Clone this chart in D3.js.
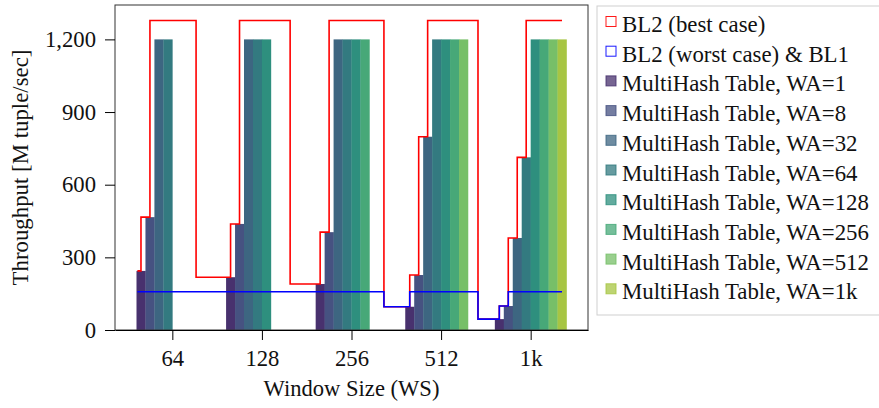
<!DOCTYPE html>
<html>
<head>
<meta charset="utf-8">
<script src="https://d3js.org/d3.v7.min.js"></script>
<style>
  body { margin: 0; background: #fff; }
</style>
</head>
<body>
<div id="holder"></div>
<script>
const w = 879;
const h = 408;
const margin = { top: 5, right: 291, bottom: 78, left: 115 };
const font = "'Liberation Serif', 'Times New Roman', Times, serif";

// DATA
const windowSizes = ["64", "128", "256", "512", "1k"];
const yTicks = [0, 300, 600, 900, 1200];
const seriesNames = [
    "MultiHash Table, WA=1", "MultiHash Table, WA=8", "MultiHash Table, WA=32",
    "MultiHash Table, WA=64", "MultiHash Table, WA=128", "MultiHash Table, WA=256",
    "MultiHash Table, WA=512", "MultiHash Table, WA=1k"
];
const seriesColors = ["#48316e", "#465281", "#3d6681", "#337a80", "#2e8f7e", "#47a878", "#77bf68", "#a7c543"];

// throughput per window size, one value per WA (only WA <= WS)
const throughput = [
    [244, 466, 1200, 1200],
    [218, 438, 1200, 1200, 1200],
    [190, 404, 1200, 1200, 1200, 1200],
    [96, 227, 798, 1200, 1200, 1200, 1200],
    [45, 99, 380, 713, 1200, 1200, 1200, 1200]
];

// baselines: step values at the first WA slots, then a plateau
const bl2BestSteps = [[244, 466], [218, 438], [190, 404], [96, 227, 798], [45, 99, 380, 713]];
const bl2BestPeak = [1278, 1278, 1278, 1278, 1278];
const bl2WorstSteps = [[158, 158], [158, 158], [158, 158], [96, 158, 158], [45, 99, 158, 158]];
const bl2WorstPeak = [158, 158, 158, 158, 158];
const plateauEnd = [1.265, 2.315, 3.362, 4.412, 5.35];
const lineStart = 0.61;

// SVG
const svg = d3.select("#holder")
    .append("svg")
    .attr("width", w)
    .attr("height", h)
    .style("display", "block");

// scale font so a text gets the wanted width
function fitWidth(sel, target) {
    let size = 22;
    sel.style("font-size", size + "px");
    let len = sel.node().getComputedTextLength();
    if (len > 0) size = size * target / len;
    return size;
}

// SCALES
const xScale = d3.scaleLinear()
    .domain([0.36, 5.64])
    .range([margin.left, w - margin.right]);

const yScale = d3.scaleLinear()
    .domain([0, 1342])
    .range([h - margin.bottom, margin.top]);

const barWidth = xScale(0.1) - xScale(0);

// BARS
throughput.forEach((values, i) => {
    svg.append("g")
        .selectAll("rect")
        .data(values)
        .enter()
        .append("rect")
        .attr("x", (d, k) => xScale(i + 1 + (k - 4) * 0.1))
        .attr("y", d => yScale(d))
        .attr("width", barWidth + 0.3)
        .attr("height", d => yScale(0) - yScale(d))
        .attr("fill", (d, k) => seriesColors[k]);
});

// STEP LINES
function stepPoints(steps, peaks) {
    let pts = [{ x: lineStart, y: steps[0][0] }];
    steps.forEach((vals, i) => {
        vals.forEach((v, k) => pts.push({ x: i + 1 + (k - 3.5) * 0.1, y: v }));
        pts.push({ x: plateauEnd[i], y: peaks[i] });
    });
    return pts;
}

const line = d3.line()
    .x(d => xScale(d.x))
    .y(d => yScale(d.y))
    .curve(d3.curveStepBefore);

svg.append("path")
    .datum(stepPoints(bl2BestSteps, bl2BestPeak))
    .attr("d", line)
    .attr("fill", "none")
    .attr("stroke", "#ff0000")
    .attr("stroke-width", 1.6);

svg.append("path")
    .datum(stepPoints(bl2WorstSteps, bl2WorstPeak))
    .attr("d", line)
    .attr("fill", "none")
    .attr("stroke", "#0000ff")
    .attr("stroke-width", 1.6);

// FRAME
svg.append("rect")
    .attr("x", xScale.range()[0])
    .attr("y", yScale.range()[1])
    .attr("width", xScale.range()[1] - xScale.range()[0])
    .attr("height", yScale.range()[0] - yScale.range()[1])
    .attr("fill", "none")
    .attr("stroke", "#333")
    .attr("stroke-width", 1);

// AXES
const xAxis = d3.axisBottom(xScale)
    .tickValues([1, 2, 3, 4, 5])
    .tickFormat((d, i) => windowSizes[i])
    .tickSize(10)
    .tickSizeOuter(0)
    .tickPadding(10);

const yAxis = d3.axisLeft(yScale)
    .tickValues(yTicks)
    .tickFormat(d3.format(","))
    .tickSize(10)
    .tickSizeOuter(0)
    .tickPadding(9);

const gx = svg.append("g")
    .attr("transform", "translate(0," + yScale(0) + ")")
    .call(xAxis);
gx.select(".domain").attr("stroke", "#000");

const gy = svg.append("g")
    .attr("transform", "translate(" + xScale.range()[0] + ",0)")
    .call(yAxis);
gy.select(".domain").remove();

const tickTexts = svg.selectAll(".tick text")
    .style("font-family", font)
    .attr("fill", "#111");
const tickSize = fitWidth(gy.selectAll(".tick text").filter(d => d === 1200), 51);
tickTexts.style("font-size", tickSize + "px");

// AXIS LABELS
const xLabel = svg.append("text")
    .attr("x", (xScale.range()[0] + xScale.range()[1]) / 2)
    .attr("y", 396)
    .attr("text-anchor", "middle")
    .style("font-family", font)
    .attr("fill", "#111")
    .text("Window Size (WS)");
xLabel.style("font-size", fitWidth(xLabel, 176) + "px");

const yLabel = svg.append("text")
    .attr("transform", "translate(28," + (yScale.range()[0] + yScale.range()[1]) / 2 + ") rotate(-90)")
    .attr("text-anchor", "middle")
    .style("font-family", font)
    .attr("fill", "#111")
    .text("Throughput [M tuple/sec]");
yLabel.style("font-size", fitWidth(yLabel, 236) + "px");

// LEGEND
const legend = svg.append("g").attr("transform", "translate(597,6)");

legend.append("rect")
    .attr("width", 300)
    .attr("height", 309)
    .attr("fill", "#fff")
    .attr("stroke", "#cfcfcf");

const legendItems = [
    { name: "BL2 (best case)", stroke: "#ff0000", fill: "#fff", opacity: 1 },
    { name: "BL2 (worst case) & BL1", stroke: "#0000ff", fill: "#fff", opacity: 1 }
].concat(seriesNames.map((n, i) => ({ name: n, stroke: seriesColors[i], fill: seriesColors[i], opacity: 0.75 })));

const rowH = 29.7;

legend.selectAll("rect.swatch")
    .data(legendItems)
    .enter()
    .append("rect")
    .attr("class", "swatch")
    .attr("x", 9)
    .attr("y", (d, i) => 10.5 + i * rowH)
    .attr("width", 10)
    .attr("height", 10)
    .attr("fill", d => d.fill)
    .attr("fill-opacity", d => d.opacity)
    .attr("stroke", d => d.stroke)
    .attr("stroke-opacity", d => d.opacity === 1 ? 0.9 : 0.85)
    .attr("stroke-width", 1);

const legendTexts = legend.selectAll("text.label")
    .data(legendItems)
    .enter()
    .append("text")
    .attr("class", "label")
    .attr("x", 25)
    .attr("y", (d, i) => 26 + i * rowH)
    .style("font-family", font)
    .attr("fill", "#111")
    .text(d => d.name);
const legendSize = fitWidth(legendTexts.filter(d => d.name.endsWith("WA=128")), 247);
legendTexts.style("font-size", legendSize + "px");
</script>
</body>
</html>
